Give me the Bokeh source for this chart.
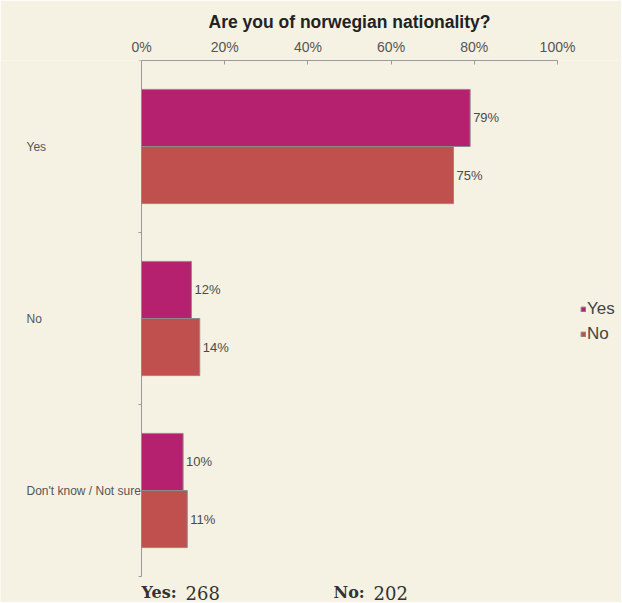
from bokeh.plotting import figure
from bokeh.models import Range1d, FixedTicker, PrintfTickFormatter, Legend, LegendItem, ColumnDataSource
from bokeh.core.properties import value
from bokeh.embed import file_html
from bokeh.resources import INLINE
import numpy as np

# ---- data ----
title = "Are you of norwegian nationality?"
categories = ["Yes", "No", "Don't know / Not sure"]
series = ["Yes", "No"]
yes_values = [79, 12, 10]
no_values = [75, 14, 11]
x_ticks = [0, 20, 40, 60, 80, 100]
count_labels = ["Yes:", "No:"]
count_values = [268, 202]
colors = ["#B5216E", "#C0504D"]

BG = "#F5F2E3"
SANS = "Liberation Sans"
TXT = "#4a4a4a"
AX = "#9a9a9a"

W, H = 621, 602
FRAME_TOP = 60
PX_PER_UNIT = 4.16          # px per percent
X0 = 141                    # page x of 0%
BAND = 172                  # px per category band

x_range = Range1d(-X0 / PX_PER_UNIT, (W - X0) / PX_PER_UNIT)
y_range = Range1d((H - FRAME_TOP) / BAND, 0)

p = figure(width=W, height=H, x_range=x_range, y_range=y_range,
           output_backend="svg", toolbar_location=None, x_axis_location="above",
           y_axis_location=None,
           min_border_left=0, min_border_right=0, min_border_top=FRAME_TOP, min_border_bottom=0,
           background_fill_color=BG, border_fill_color=BG, outline_line_color=None)
p.xgrid.visible = False
p.ygrid.visible = False

# title
p.title.text = title
p.title.align = "left"
p.title.offset = 208
p.title.text_font = SANS
p.title.text_font_size = "17.5px"
p.title.text_font_style = "bold"
p.title.text_color = "#222222"
p.title.standoff = 8

# x axis (top)
xa = p.xaxis[0]
xa.bounds = (0, 100)
xa.ticker = FixedTicker(ticks=x_ticks)
xa.formatter = PrintfTickFormatter(format="%d%%")
xa.major_tick_in = 4
xa.major_tick_out = 0
xa.minor_tick_line_color = None
xa.axis_line_color = AX
xa.major_tick_line_color = AX
xa.major_label_text_font = SANS
xa.major_label_text_font_size = "14px"
xa.major_label_text_color = "#555555"
xa.major_label_standoff = 6

n = len(categories)
idx = np.arange(n)

# y axis line with boundary ticks
p.segment(x0=[0], y0=[0], x1=[0], y1=[n], line_color=AX, line_width=1)
bounds = np.arange(n + 1)
p.segment(x0=np.zeros(n + 1), y0=bounds, x1=np.full(n + 1, -3 / PX_PER_UNIT), y1=bounds,
          line_color=AX, line_width=1)

half = 0.166
src_yes = ColumnDataSource(dict(y=idx + 0.5 - half, v=yes_values, lab=[f"{v}%" for v in yes_values]))
src_no = ColumnDataSource(dict(y=idx + 0.5 + half, v=no_values, lab=[f"{v}%" for v in no_values]))

r_yes = p.hbar(y="y", right="v", left=0, height=2 * half, source=src_yes,
               fill_color=colors[0], line_color="#8c8c8c", line_width=1)
r_no = p.hbar(y="y", right="v", left=0, height=2 * half, source=src_no,
              fill_color=colors[1], line_color="#8c8c8c", line_width=1)

for src in (src_yes, src_no):
    p.text(x="v", y="y", text="lab", source=src, x_offset=3,
           text_font=value(SANS), text_font_size="13px", text_color=TXT,
           text_baseline="middle", text_align="left")

# category labels (left-aligned)
cat_src = ColumnDataSource(dict(y=idx + 0.5, t=categories))
p.text(x=(26 - X0) / PX_PER_UNIT, y="y", text="t", source=cat_src,
       text_font=value(SANS), text_font_size="12px", text_color="#555555",
       text_baseline="middle", text_align="left")

# bottom counts
count_y = (592 - FRAME_TOP) / BAND
count_x = [0, (333 - X0) / PX_PER_UNIT]
num_off = [44, 40]
for lab, val, xx, off in zip(count_labels, count_values, count_x, num_off):
    p.text(x=[xx], y=[count_y], text=[lab], text_font=value("DejaVu Serif"),
           text_font_size="16px", text_font_style="bold", text_color="#333333",
           text_baseline="middle", text_align="left")
    p.text(x=[xx], y=[count_y], text=[str(val)], x_offset=off, text_font=value("DejaVu Serif"),
           text_font_size="18px", text_color="#333333",
           text_baseline="middle", text_align="left")

legend = Legend(items=[LegendItem(label=series[0], renderers=[r_yes]),
                       LegendItem(label=series[1], renderers=[r_no])],
                location=(580, H - 345), glyph_width=6, glyph_height=6, label_standoff=1,
                label_text_font=SANS, label_text_font_size="17px", label_text_color="#444444",
                label_height=22, spacing=3, padding=0, margin=0,
                background_fill_alpha=0, border_line_color=None)
p.add_layout(legend)

open("out.html", "w").write(file_html(p, INLINE))
